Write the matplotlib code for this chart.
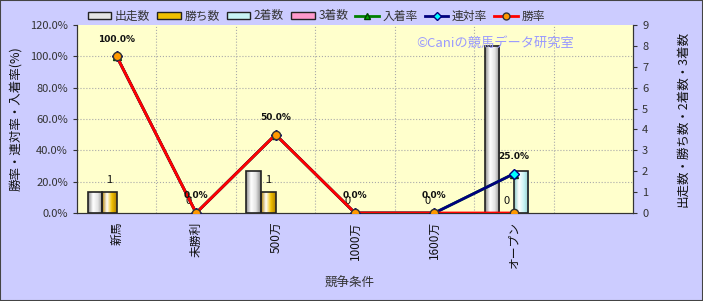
import matplotlib.pyplot as plt
from matplotlib.patches import Patch, Rectangle
from matplotlib.lines import Line2D
from matplotlib.colors import LinearSegmentedColormap
import numpy as np

plt.rcParams['font.family'] = ['Noto Sans CJK JP', 'DejaVu Sans']

# data
categories = ['新馬', '未勝利', '500万', '1000万', '1600万', 'オープン']
starts = [1, 0, 2, 0, 0, 8]      # 出走数
wins = [1, 0, 1, 0, 0, 0]        # 勝ち数
seconds = [0, 0, 0, 0, 0, 2]     # 2着数
thirds = [0, 0, 0, 0, 0, 0]      # 3着数
win_rate = [100, 0, 50, 0, 0, 0]        # 勝率
rentai_rate = [100, 0, 50, 0, 0, 25]    # 連対率
place_rate = [100, 0, 50, 0, 0, 25]     # 入着率
pct_ticks = [0, 20, 40, 60, 80, 100, 120]

x = np.arange(len(categories))

fig = plt.figure(figsize=(7.03, 3.01), dpi=100)
fig.patch.set_facecolor('#ccccff')
fig.patches.append(Rectangle((0, 0), 1, 1, transform=fig.transFigure, fill=False,
                             edgecolor='#444444', linewidth=1.5))

ax = fig.add_axes([0.1095, 0.2924, 0.7909, 0.6246])
ax2 = ax.twinx()
ax.set_zorder(ax2.get_zorder() + 1)
ax.patch.set_visible(False)
ax2.patch.set_visible(True)
ax2.patch.set_facecolor('#ffffcc')

# bars on the count axis (cylinder-ish shading)
w = 0.183
series = [(starts, '#e4e4e4', '#8a8a8a', '出走数'),
          (wins, '#f0c000', '#b08000', '勝ち数'),
          (seconds, '#c8f4f4', '#8ccaca', '2着数'),
          (thirds, '#ff99cc', '#cc6699', '3着数')]
for i, (vals, col, dark, lab) in enumerate(series):
    cmap = LinearSegmentedColormap.from_list(lab, [dark, 'white', col, dark])
    grad = np.linspace(0, 1, 64).reshape(1, -1)
    for xi, v in zip(x, vals):
        if v <= 0:
            continue
        x0 = xi + (i - 2) * w
        ax2.imshow(grad, extent=[x0, x0 + w, 0, v], aspect='auto', cmap=cmap,
                   zorder=3, interpolation='bilinear')
        ax2.bar(x0, v, width=w, align='edge', facecolor='none',
                edgecolor='#222222', linewidth=1.2, zorder=4)

# grid
for p in pct_ticks[1:-1]:
    ax2.axhline(p / 120 * 9, color='#aaaaaa', linestyle=':', linewidth=0.8, zorder=1)
for b in np.arange(0.5, 6.5, 1):
    ax2.axvline(b, color='#aaaaaa', linestyle=':', linewidth=0.8, zorder=1)

# labels for 勝ち数
for xi, v in zip(x, wins):
    ax2.annotate(str(v), (xi - 0.5 * w, v), xytext=(0, 5), textcoords='offset points',
                 ha='center', va='bottom', fontsize=8, color='#111111', zorder=5)

# lines on the percent axis
ax.plot(x, place_rate, color='#008000', linewidth=2, marker='^', markersize=6,
        markerfacecolor='#008000', markeredgecolor='#004000', zorder=3)
ax.plot(x, rentai_rate, color='#000080', linewidth=2, marker='D', markersize=5,
        markerfacecolor='#00ffff', markeredgecolor='#000080', zorder=4)
ax.plot(x, win_rate, color='#ff0000', linewidth=2, marker='o', markersize=6,
        markerfacecolor='#ff9900', markeredgecolor='#333333', zorder=5)

for xi, v in zip(x, rentai_rate):
    ax.annotate('%.1f%%' % v, (xi, v), xytext=(0, 9), textcoords='offset points',
                ha='center', va='bottom', fontsize=6.5, fontweight='bold',
                family='DejaVu Sans', color='#111111', zorder=6)

ax.set_xlim(-0.5, 6.5)
ax.set_ylim(0, 120)
ax2.set_ylim(0, 9)
ax.set_yticks(pct_ticks)
ax.set_yticklabels(['%.1f%%' % p for p in pct_ticks])
ax2.set_yticks(range(10))
ax.set_xticks(x)
ax.set_xticklabels(categories, rotation=90)

for a in (ax, ax2):
    a.spines['top'].set_visible(False)
    for s in ('left', 'right', 'bottom'):
        a.spines[s].set_color('#333333')
    a.tick_params(labelsize=8, colors='#333333', length=3)
ax.tick_params(axis='x', length=0, pad=6, labelsize=8.5, labelcolor='#111111')

ax.set_ylabel('勝率・連対率・入着率(%)', fontsize=9, color='#111111', labelpad=6)
ax2.set_ylabel('出走数・勝ち数・2着数・3着数', fontsize=9, color='#111111',
               rotation=90, labelpad=20)
ax.set_xlabel('競争条件', fontsize=9, color='#333333')
ax.xaxis.set_label_coords(0.49, -0.34)

fig.text(495 / 703, 1 - 43 / 301, '©Caniの競馬データ研究室', color='#9999ff',
         fontsize=9.5, ha='center', va='center')

handles = [Patch(facecolor=c, edgecolor='#222222', label=l) for _, c, _, l in series]
handles += [
    Line2D([], [], color='#008000', linewidth=2, marker='^', markersize=5,
           markerfacecolor='#00aa00', markeredgecolor='#004000', label='入着率'),
    Line2D([], [], color='#000080', linewidth=2, marker='D', markersize=4,
           markerfacecolor='#00ffff', markeredgecolor='#000080', label='連対率'),
    Line2D([], [], color='#ff0000', linewidth=2, marker='o', markersize=5,
           markerfacecolor='#ff9900', markeredgecolor='#333333', label='勝率'),
]
fig.legend(handles=handles, ncol=7, frameon=False, loc='center',
           bbox_to_anchor=(0.45, 1 - 16 / 301), fontsize=8.5, handlelength=2.0,
           handleheight=0.5, handletextpad=0.3, columnspacing=0.6,
           labelcolor='#333333')

fig.savefig('out.png', dpi=100, facecolor=fig.get_facecolor())
